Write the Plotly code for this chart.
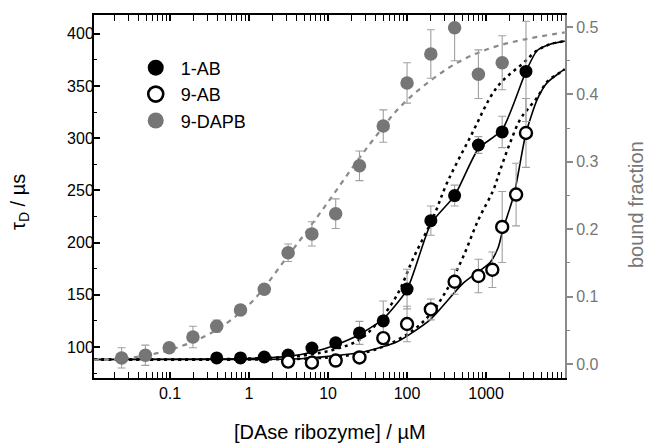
import plotly.graph_objects as go

# ---- data ----
conc_1ab = [0.39, 0.78, 1.56, 3.125, 6.25, 12.5, 25, 50, 100, 200, 400, 800, 1600, 3200]
tau_1ab = [89.5, 89.5, 90.4, 92.3, 99, 104, 113.5, 125, 155.5, 221, 245, 293.5, 306, 364]
err_1ab = [1.5, 1.5, 1.5, 2, 3, 4, 11, 19, 19, 14, 10, 8, 15, 48]

conc_9ab = [3.125, 6.25, 12.5, 25, 50, 100, 200, 400, 800, 1200, 1600, 2400, 3200]
tau_9ab = [86, 85, 87, 90, 108.5, 122, 136, 162.5, 168, 174, 215, 246, 305]
err_9ab = [1, 1, 1, 2, 4, 17, 10, 12, 16, 17, 34, 30, 33]

conc_dapb = [0.0244, 0.0488, 0.0977, 0.195, 0.39, 0.78, 1.56, 3.125, 6.25,
             12.5, 25, 50, 100, 200, 400, 800, 1600]
frac_dapb = [0.009, 0.013, 0.024, 0.040, 0.056, 0.080, 0.111, 0.165, 0.193,
             0.223, 0.294, 0.353, 0.417, 0.460, 0.499, 0.430, 0.447]
err_dapb = [0.015, 0.015, 0.007, 0.016, 0.009, 0.007, 0.007, 0.013, 0.018,
            0.022, 0.022, 0.024, 0.030, 0.036, 0.049, 0.036, 0.040]

# fitted / guide curves
fit_dapb_x = [0.0109, 0.031, 0.1, 0.32, 1.0, 3.1, 8.9, 23, 45, 81, 160, 430, 1100, 2900, 9900]
fit_dapb_y = [0.006, 0.009, 0.021, 0.045, 0.088, 0.160, 0.232, 0.300, 0.345, 0.381, 0.412,
              0.447, 0.468, 0.481, 0.492]

solid_1ab_x = [0.0109, 0.39, 1.56, 3.125, 6.25, 12.5, 25, 50, 100, 200, 400, 800, 1600,
               3200, 4430, 6460, 9900]
solid_1ab_y = [88, 88.5, 89.5, 91, 95, 102, 112, 127, 155, 218, 245, 290, 308, 364, 384,
               390, 393]

dot_1ab_x = [0.0109, 1, 5, 12.5, 25, 42, 75, 120, 214, 320, 630, 1380, 2950, 4430, 6460, 9900]
dot_1ab_y = [88, 89, 92, 98, 107, 123, 150, 185, 224, 257, 301, 349, 372, 384, 390, 393]

solid_9ab_x = [0.0109, 1, 5, 10, 27.7, 75, 195, 510, 1124, 1420, 1640, 2260, 3200, 4430,
               5900, 8640, 9900]
solid_9ab_y = [88, 88, 89, 91, 95, 105, 126, 161, 181, 195, 213, 246, 305, 337, 353, 363, 366]

dot_9ab_x = [0.0109, 1, 10, 30, 60, 119, 200, 320, 510, 800, 1230, 1500, 2000, 2700, 3300,
             4430, 5900, 8640, 9900]
dot_9ab_y = [88, 88, 90, 95, 103, 116, 132, 155, 186, 222, 250, 269, 295, 318, 327, 339,
             354, 363, 366]

x_ticks = [0.1, 1, 10, 100, 1000]
x_ticktext = ["0.1", "1", "10", "100", "1000"]
y_ticks = [100, 150, 200, 250, 300, 350, 400]
y2_ticks = [0.0, 0.1, 0.2, 0.3, 0.4, 0.5]

labels = ["1-AB", "9-AB", "9-DAPB"]

BLACK = "#000000"
GRAY_M = "#767676"
GRAY_L = "#8a8a8a"
GRAY_E = "#a0a0a0"
FONT = "Liberation Sans, Arial, sans-serif"

fig = go.Figure()

# curves
fig.add_trace(go.Scatter(x=fit_dapb_x, y=fit_dapb_y, yaxis="y2", mode="lines",
                         line=dict(color=GRAY_L, width=2.2, dash="5px,5px", shape="spline"),
                         showlegend=False, hoverinfo="skip"))
fig.add_trace(go.Scatter(x=dot_1ab_x, y=dot_1ab_y, mode="lines",
                         line=dict(color=BLACK, width=2.5, dash="3px,4px", shape="spline"),
                         showlegend=False, hoverinfo="skip"))
fig.add_trace(go.Scatter(x=dot_9ab_x, y=dot_9ab_y, mode="lines",
                         line=dict(color=BLACK, width=2.5, dash="3px,4px", shape="spline"),
                         showlegend=False, hoverinfo="skip"))
fig.add_trace(go.Scatter(x=solid_1ab_x, y=solid_1ab_y, mode="lines",
                         line=dict(color=BLACK, width=1.6, shape="spline", smoothing=0.6),
                         showlegend=False, hoverinfo="skip"))
fig.add_trace(go.Scatter(x=solid_9ab_x, y=solid_9ab_y, mode="lines",
                         line=dict(color=BLACK, width=1.6, shape="spline", smoothing=0.6),
                         showlegend=False, hoverinfo="skip"))

# data markers
fig.add_trace(go.Scatter(x=conc_dapb, y=frac_dapb, yaxis="y2", mode="markers",
                         marker=dict(size=13.5, color=GRAY_M),
                         error_y=dict(type="data", array=err_dapb, color=GRAY_E,
                                      thickness=1.1, width=4),
                         showlegend=False))
fig.add_trace(go.Scatter(x=conc_1ab, y=tau_1ab, mode="markers",
                         marker=dict(size=13, color=BLACK),
                         error_y=dict(type="data", array=err_1ab, color=GRAY_E,
                                      thickness=1.1, width=4),
                         showlegend=False))
fig.add_trace(go.Scatter(x=conc_9ab, y=tau_9ab, mode="markers",
                         marker=dict(size=12, color="white", line=dict(color=BLACK, width=2.4)),
                         error_y=dict(type="data", array=err_9ab, color=GRAY_E,
                                      thickness=1.1, width=4),
                         showlegend=False))

# legend entries
fig.add_trace(go.Scatter(x=[None], y=[None], mode="markers", name=labels[0],
                         marker=dict(size=16, color=BLACK)))
fig.add_trace(go.Scatter(x=[None], y=[None], mode="markers", name=labels[1],
                         marker=dict(size=15, color="white", line=dict(color=BLACK, width=2.6))))
fig.add_trace(go.Scatter(x=[None], y=[None], mode="markers", name=labels[2],
                         marker=dict(size=16, color=GRAY_M)))

minor_x = [k * 10 ** e for e in range(-2, 4) for k in range(2, 10)]

fig.update_layout(
    width=648, height=445,
    margin=dict(l=94, r=83, t=15, b=67),
    paper_bgcolor="white", plot_bgcolor="white",
    font=dict(family=FONT, size=16, color=BLACK),
    showlegend=True,
    legend=dict(x=0.078, y=0.905, xanchor="left", yanchor="top",
                bgcolor="rgba(0,0,0,0)", font=dict(size=18, family=FONT),
                itemwidth=40, tracegroupgap=0),
    xaxis=dict(type="log", range=[-1.962, 3.999],
               tickmode="array", tickvals=x_ticks, ticktext=x_ticktext,
               showline=True, linecolor=BLACK, linewidth=2, mirror="allticks",
               ticks="inside", ticklen=6, tickwidth=1.5, tickcolor=BLACK,
               showgrid=False, zeroline=False,
               minor=dict(tickmode="array", tickvals=minor_x, ticks="inside",
                          ticklen=3, tickwidth=1.2, tickcolor=BLACK, showgrid=False),
               tickfont=dict(size=16)),
    yaxis=dict(range=[70.3, 418], tickmode="array", tickvals=y_ticks,
               showline=True, linecolor=BLACK, linewidth=2,
               ticks="inside", ticklen=6, tickwidth=1.5, tickcolor=BLACK,
               showgrid=False, zeroline=False, ticklabelstandoff=-5,
               minor=dict(dtick=25, tick0=0, ticks="inside", ticklen=3, tickwidth=1.2,
                          tickcolor=BLACK, showgrid=False),
               tickfont=dict(size=16)),
    yaxis2=dict(range=[-0.0208, 0.5178], overlaying="y", side="right",
                tickmode="array", tickvals=y2_ticks, tickformat=".1f",
                showline=True, linecolor=GRAY_L, linewidth=2,
                ticks="outside", ticklen=6, tickwidth=1.5, tickcolor=GRAY_L,
                showgrid=False, zeroline=False,
                minor=dict(dtick=0.05, tick0=0, ticks="outside", ticklen=3, tickwidth=1.2,
                           tickcolor=GRAY_L, showgrid=False),
                tickfont=dict(size=16, color=GRAY_M)),
    annotations=[
        dict(text="[DAse ribozyme] / µM", xref="paper", yref="paper",
             x=0.5, y=(378 - 432) / 363, xanchor="center", yanchor="middle",
             showarrow=False, font=dict(size=20, family=FONT, color=BLACK)),
        dict(text="τ<sub>D</sub> / µs", xref="paper", yref="paper",
             x=(19 - 94) / 471, y=(378 - 202) / 363, xanchor="center", yanchor="middle",
             textangle=-90, showarrow=False, font=dict(size=20, family=FONT, color=BLACK)),
        dict(text="bound fraction", xref="paper", yref="paper",
             x=(636 - 94) / 471, y=(378 - 205) / 363, xanchor="center", yanchor="middle",
             textangle=-90, showarrow=False, font=dict(size=20, family=FONT, color=GRAY_M)),
    ],
)

fig.write_html("out.html", config={"displayModeBar": False},
               post_script="document.body.style.margin='0';document.body.style.overflow='hidden';")
